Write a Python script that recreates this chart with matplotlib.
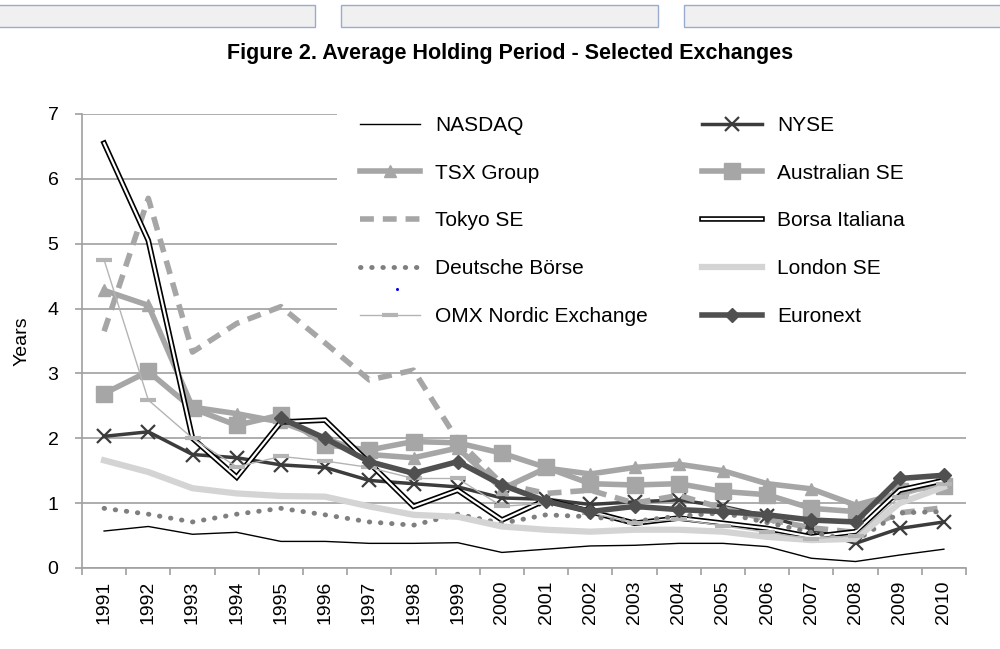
import numpy as np
import matplotlib
matplotlib.use("Agg")
from matplotlib import pyplot as plt
from matplotlib.patches import Rectangle
from matplotlib.lines import Line2D

plt.rcParams['font.family'] = ['Liberation Sans', 'DejaVu Sans']

years = [str(y) for y in range(1991, 2011)]

nasdaq = [0.57, 0.64, 0.52, 0.55, 0.41, 0.41, 0.38, 0.38, 0.39, 0.24,
          0.29, 0.34, 0.35, 0.38, 0.38, 0.33, 0.15, 0.10, 0.20, 0.29]
nyse = [2.03, 2.10, 1.75, 1.70, 1.59, 1.55, 1.35, 1.30, 1.25, 1.08,
        1.06, 0.98, 1.02, 1.05, 0.95, 0.80, 0.60, 0.38, 0.61, 0.71]
tsx = [4.28, 4.05, 2.48, 2.38, 2.25, 2.00, 1.75, 1.70, 1.85, 1.22,
       1.54, 1.45, 1.55, 1.60, 1.50, 1.30, 1.22, 0.97, 1.15, 1.35]
australian = [2.69, 3.03, 2.46, 2.20, 2.36, 1.90, 1.82, 1.95, 1.93, 1.77,
              1.55, 1.30, 1.28, 1.30, 1.18, 1.13, 0.92, 0.87, 1.18, 1.27]
tokyo = [3.65, 5.70, 3.33, 3.77, 4.03, 3.47, 2.90, 3.05, 1.97, 1.30,
         1.15, 1.20, 1.00, 1.12, 0.92, 0.75, 0.62, 0.55, 0.85, 0.93]
borsa = [6.55, 5.05, 2.00, 1.40, 2.25, 2.28, 1.62, 0.95, 1.20, 0.74,
         1.05, 0.87, 0.69, 0.77, 0.69, 0.61, 0.48, 0.56, 1.20, 1.35]
deutsche = [0.92, 0.83, 0.71, 0.83, 0.92, 0.82, 0.71, 0.66, 0.83, 0.69,
            0.82, 0.79, 0.72, 0.80, 0.85, 0.70, 0.55, 0.42, 0.85, 0.87]
london = [1.66, 1.48, 1.23, 1.15, 1.11, 1.10, 0.95, 0.82, 0.79, 0.64,
          0.59, 0.56, 0.59, 0.59, 0.56, 0.48, 0.43, 0.45, 1.00, 1.25]
omx = [4.75, 2.59, 2.00, 1.56, 1.72, 1.65, 1.55, 1.38, 1.38, 0.95,
       1.00, 0.85, 0.70, 0.75, 0.65, 0.55, 0.45, 0.50, 1.10, 1.30]
euronext = [np.nan, np.nan, np.nan, np.nan, 2.31, 2.00, 1.64, 1.46, 1.64, 1.28,
            1.03, 0.87, 0.95, 0.90, 0.87, 0.82, 0.74, 0.71, 1.38, 1.43]

fig = plt.figure(figsize=(10, 6.49), dpi=100)

# browser-ish boxes on top
for x0, x1 in [(-0.01, 0.315), (0.341, 0.658), (0.684, 1.01)]:
    fig.add_artist(Rectangle((x0, 1 - 27 / 649), x1 - x0, 22 / 649,
                             transform=fig.transFigure, facecolor='#f0f0f0',
                             edgecolor='#9aabd0', lw=1))

fig.text(0.51, 1 - 53 / 649, 'Figure 2. Average Holding Period - Selected Exchanges',
         ha='center', va='center', fontsize=15.5, fontweight='bold')

ax = fig.add_axes([0.082, 1 - 568 / 649, 0.884, 454 / 649])
x = np.arange(len(years))

h_nasdaq, = ax.plot(x, nasdaq, color='black', lw=1)
h_nyse, = ax.plot(x, nyse, color='#3c3c3c', lw=2.5, marker='x', ms=10, mew=1.6)
h_tsx, = ax.plot(x, tsx, color='#a6a6a6', lw=4, marker='^', ms=9)
h_aus, = ax.plot(x, australian, color='#a6a6a6', lw=4, marker='s', ms=12)
h_tokyo, = ax.plot(x, tokyo, color='#a6a6a6', lw=4, ls=(0, (2.5, 1.6)))
h_borsa1, = ax.plot(x, borsa, color='black', lw=4, solid_joinstyle='miter')
h_borsa2, = ax.plot(x, borsa, color='white', lw=1.6, solid_joinstyle='miter')
h_deut, = ax.plot(x, deutsche, color='#7f7f7f', lw=3.5, ls=(0, (0.1, 2.2)),
                  dash_capstyle='round')
h_london, = ax.plot(x, london, color='#d4d4d4', lw=4.5)
h_omx, = ax.plot(x, omx, color='#b4b4b4', lw=1, marker='_', ms=12, mew=3)
h_euro, = ax.plot(x, euronext, color='#505050', lw=4, marker='D', ms=7)

ax.set_xlim(-0.5, len(years) - 0.5)
ax.set_ylim(0, 7)
ax.set_yticks(range(0, 8))
ax.set_xticks(x)
ax.set_xticklabels(years, rotation=90)
ax.set_xticks(np.arange(-0.5, len(years)), minor=True)
ax.tick_params(axis='x', which='major', length=0, pad=9, labelsize=14)
ax.tick_params(axis='x', which='minor', length=5, color='#a0a0a0', width=1.2)
ax.tick_params(axis='y', length=5, color='#a0a0a0', width=1.2, pad=12, labelsize=14)
ax.grid(axis='y', color='#a0a0a0', lw=1.2)
ax.set_axisbelow(True)
for s in ['top', 'right']:
    ax.spines[s].set_visible(False)
for s in ['left', 'bottom']:
    ax.spines[s].set_color('#a0a0a0')
    ax.spines[s].set_linewidth(1.2)
ax.set_ylabel('Years', fontsize=14, labelpad=12)

# white area behind the legend hides the gridlines there
ax.add_patch(Rectangle((0.2885, 0.535), 0.72, 0.5, transform=ax.transAxes,
                       facecolor='white', edgecolor='none', zorder=1, clip_on=False))

handles = [h_nasdaq, h_tsx, h_tokyo, h_deut, h_omx,
           h_nyse, h_aus, (h_borsa1, h_borsa2), h_london, h_euro]
labels = ['NASDAQ', 'TSX Group', 'Tokyo SE', 'Deutsche Börse', 'OMX Nordic Exchange',
          'NYSE', 'Australian SE', 'Borsa Italiana', 'London SE', 'Euronext']
leg = fig.legend(handles, labels, ncol=2, loc='upper left',
                 bbox_to_anchor=(0.360, 1 - 116 / 649), frameon=False,
                 fontsize=15, handlelength=2.9, handletextpad=0.7,
                 labelspacing=1.38, columnspacing=2.6, borderpad=0,
                 borderaxespad=0)

# stray blue dot from the source
fig.add_artist(Line2D([397 / 1000], [1 - 289 / 649], marker='o', ms=2.2, color='blue',
                      mec='none', transform=fig.transFigure))

fig.savefig('out.png', dpi=100, facecolor='white')
